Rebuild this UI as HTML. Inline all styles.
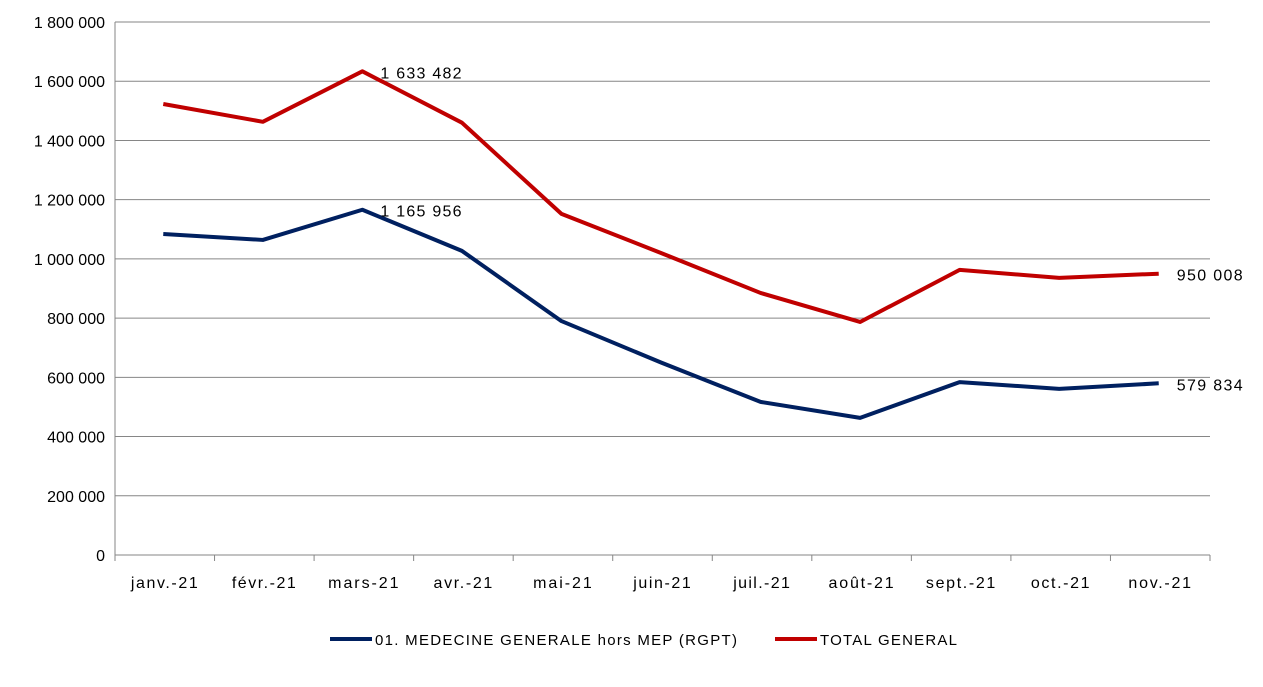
<!DOCTYPE html>
<html><head><meta charset="utf-8">
<style>
html,body{margin:0;padding:0;background:#fff;}
svg text{font-family:"Liberation Sans",Arial,sans-serif;fill:#000;}
</style></head>
<body>
<svg id="chart" width="1263" height="682" xmlns="http://www.w3.org/2000/svg"></svg>
<script>
const categories=["janv.-21","févr.-21","mars-21","avr.-21","mai-21","juin-21","juil.-21","août-21","sept.-21","oct.-21","nov.-21"];
const medecineValues=[1084000,1064000,1165956,1027000,790000,650000,517000,463000,584000,561000,579834];
const totalValues=[1523000,1463000,1633482,1460000,1152000,1020000,885000,787000,963000,936000,950008];
const yTicks=[0,200000,400000,600000,800000,1000000,1200000,1400000,1600000,1800000];
const yTickLabels=["0","200 000","400 000","600 000","800 000","1 000 000","1 200 000","1 400 000","1 600 000","1 800 000"];
const medecineLabels={2:"1 165 956",10:"579 834"};
const totalLabels={2:"1 633 482",10:"950 008"};

const svg=document.getElementById('chart');
const NS="http://www.w3.org/2000/svg";
const L=115,R=1210,T=22,B=555,maxV=1800000;
const band=(R-L)/categories.length;
const x=i=>L+band*(i+0.5)-1.5;
const y=v=>B-(v/maxV)*(B-T);
function mk(tag,attrs,parent){const e=document.createElementNS(NS,tag);for(const k in attrs)e.setAttribute(k,attrs[k]);(parent||svg).appendChild(e);return e;}
function widen(t,f){t.setAttribute('textLength',(t.getComputedTextLength()*f).toFixed(1));t.setAttribute('lengthAdjust','spacing');}

yTicks.forEach((t,i)=>{
  const g=mk('line',{x1:L,x2:R,y1:y(t),y2:y(t),stroke:'#868686','stroke-width':1});
  
  
  const tx=mk('text',{x:L-10,y:y(t)+6,'text-anchor':'end','font-size':16});
  tx.textContent=yTickLabels[i];
  
  
});
const ax=mk('line',{x1:L,x2:L,y1:T,y2:B,stroke:'#868686','stroke-width':1});


for(let i=0;i<=categories.length;i++){
  const tk=mk('line',{x1:L+band*i,x2:L+band*i,y1:B,y2:B+6,stroke:'#868686'});
  
  
}
categories.forEach((c,i)=>{
  const tx=mk('text',{x:x(i)+1,y:B+33,'text-anchor':'middle','font-size':16});
  tx.textContent=c;
  
  
  widen(tx,1.2);
});
function series(vals,color,name,labels){
  const p=mk('polyline',{points:vals.map((v,i)=>x(i)+','+y(v)).join(' '),fill:'none',stroke:color,'stroke-width':4,'stroke-linejoin':'round'});
  
  
  for(const k in labels){
    const tx=mk('text',{x:x(+k)+18,y:y(vals[k])+7,'font-size':16});
    tx.textContent=labels[k];
    
    
    widen(tx,1.14);
  }
}
series(medecineValues,'#002060','medecine-generale-line',medecineLabels);
series(totalValues,'#C00000','total-general-line',totalLabels);

const lg=mk('g',{});


const l1=mk('line',{x1:330,x2:372,y1:639,y2:639,stroke:'#002060','stroke-width':4},lg);


const t1=mk('text',{x:375,y:645,'font-size':15},lg);
t1.textContent="01. MEDECINE GENERALE hors MEP (RGPT)";


t1.setAttribute('textLength','362');
t1.setAttribute('lengthAdjust','spacing');
const l2=mk('line',{x1:775,x2:817,y1:639,y2:639,stroke:'#C00000','stroke-width':4},lg);


const t2=mk('text',{x:820,y:645,'font-size':15},lg);
t2.textContent="TOTAL GENERAL";


t2.setAttribute('textLength','137');
t2.setAttribute('lengthAdjust','spacing');
</script>
</body></html>
